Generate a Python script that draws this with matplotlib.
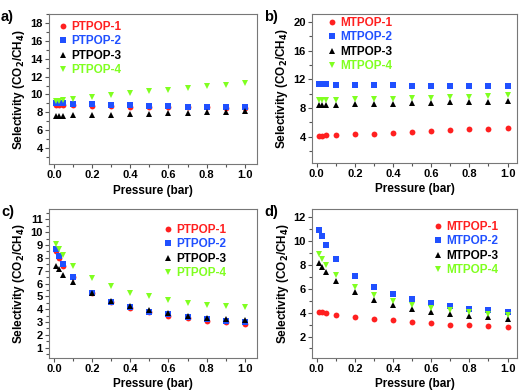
import matplotlib
matplotlib.use("Agg")
import matplotlib.pyplot as plt
from matplotlib.ticker import MultipleLocator

plt.rcParams['font.family'] = ['Liberation Sans', 'DejaVu Sans']
plt.rcParams['font.weight'] = 'bold'
plt.rcParams['axes.labelweight'] = 'bold'
plt.rcParams['mathtext.default'] = 'bf'

pressure = [0.01, 0.025, 0.05, 0.1, 0.2, 0.3, 0.4, 0.5, 0.6, 0.7, 0.8, 0.9, 1.0]

# a) PTPOP
a1 = [8.8, 8.8, 8.8, 8.8, 8.75, 8.7, 8.65, 8.6, 8.6, 8.55, 8.55, 8.5, 8.5]
a2 = [9.0, 9.0, 9.0, 8.95, 8.9, 8.85, 8.8, 8.75, 8.7, 8.65, 8.6, 8.6, 8.55]
a3 = [7.6, 7.6, 7.6, 7.65, 7.7, 7.75, 7.8, 7.85, 7.9, 7.95, 8.0, 8.05, 8.1]
a4 = [9.3, 9.3, 9.35, 9.5, 9.75, 9.95, 10.15, 10.35, 10.55, 10.75, 10.95, 11.1, 11.3]

# b) MTPOP
b1 = [4.1, 4.1, 4.15, 4.2, 4.3, 4.4, 4.55, 4.65, 4.8, 4.9, 5.0, 5.1, 5.2]
b2 = [11.3, 11.3, 11.3, 11.25, 11.2, 11.15, 11.15, 11.1, 11.1, 11.1, 11.1, 11.1, 11.1]
b3 = [8.4, 8.4, 8.4, 8.45, 8.5, 8.55, 8.6, 8.65, 8.7, 8.75, 8.8, 8.85, 8.9]
b4 = [9.1, 9.1, 9.1, 9.15, 9.2, 9.25, 9.3, 9.35, 9.4, 9.5, 9.55, 9.65, 9.75]

# c) PTPOP
c1 = [8.5, 8.0, 7.4, 6.5, 5.25, 4.55, 4.1, 3.75, 3.5, 3.3, 3.1, 3.0, 2.85]
c2 = [8.65, 8.15, 7.5, 6.5, 5.3, 4.6, 4.15, 3.8, 3.6, 3.4, 3.2, 3.1, 3.0]
c3 = [7.4, 7.1, 6.7, 6.1, 5.25, 4.65, 4.25, 3.95, 3.7, 3.5, 3.35, 3.25, 3.15]
c4 = [9.1, 8.7, 8.2, 7.4, 6.45, 5.8, 5.3, 5.0, 4.7, 4.5, 4.35, 4.25, 4.15]

# d) MTPOP
d1 = [4.1, 4.05, 4.0, 3.85, 3.65, 3.5, 3.35, 3.2, 3.1, 3.0, 2.95, 2.85, 2.8]
d2 = [10.95, 10.4, 9.65, 8.5, 7.05, 6.15, 5.55, 5.15, 4.8, 4.55, 4.35, 4.2, 4.05]
d3 = [8.15, 7.85, 7.4, 6.7, 5.7, 5.1, 4.65, 4.35, 4.1, 3.9, 3.75, 3.6, 3.5]
d4 = [8.9, 8.55, 8.0, 7.2, 6.15, 5.5, 5.0, 4.65, 4.4, 4.2, 4.05, 3.9, 3.8]

pt_names = ['PTPOP-1', 'PTPOP-2', 'PTPOP-3', 'PTPOP-4']
mt_names = ['MTPOP-1', 'MTPOP-2', 'MTPOP-3', 'MTPOP-4']

colors = ['#ff2020', '#2050ff', '#000000', '#80ff20']
markers = ['o', 's', '^', 'v']

fig = plt.figure(figsize=(5.2, 3.9), dpi=100)

def panel(rect, series, names, ylim, ymaj, ymin, xlim, tag, leg_anchor):
    ax = fig.add_axes(rect)
    for ys, nm, col, mk in zip(series, names, colors, markers):
        ax.plot(pressure, ys, linestyle='none', marker=mk, color=col,
                ms=4.2, mew=0, label=nm)
    ax.set_xlim(*xlim)
    ax.set_ylim(*ylim)
    ax.xaxis.set_major_locator(MultipleLocator(0.2))
    ax.xaxis.set_minor_locator(MultipleLocator(0.1))
    ax.yaxis.set_major_locator(MultipleLocator(ymaj))
    ax.yaxis.set_minor_locator(MultipleLocator(ymin))
    ax.tick_params(which='both', direction='out', labelsize=8, width=0.8,
                   color='#555555', pad=1.5)
    ax.tick_params(which='major', length=3)
    ax.tick_params(which='minor', length=2)
    for lab in ax.get_xticklabels() + ax.get_yticklabels():
        lab.set_fontweight('bold')
    for s in ax.spines.values():
        s.set_color('#777777')
        s.set_linewidth(0.8)
    ax.set_xlabel('Pressure (bar)', fontsize=8.5, labelpad=3)
    ax.set_ylabel('Selectivity (CO$_2$/CH$_4$)', fontsize=8.5, labelpad=2)
    ax.legend(loc='upper left', bbox_to_anchor=leg_anchor, frameon=False,
              prop={'size': 8.5, 'weight': 'bold'}, handletextpad=0.2,
              labelspacing=0.2, handlelength=1.0, borderpad=0,
              borderaxespad=0, labelcolor='markerfacecolor')
    fig.text(rect[0] - 0.092, rect[1] + rect[3] + 0.01, tag, fontsize=10.5,
             fontweight='bold', va='top')
    return ax

panel([0.094, 0.579, 0.400, 0.385], [a1, a2, a3, a4], pt_names,
      (2.2, 19.0), 2, 1, (-0.026, 1.063), 'a)', (0.038, 0.953))
panel([0.600, 0.582, 0.394, 0.382], [b1, b2, b3, b4], mt_names,
      (0.3, 21.1), 4, 2, (-0.025, 1.049), 'b)', (0.068, 0.98))
panel([0.094, 0.082, 0.400, 0.382], [c1, c2, c3, c4], pt_names,
      (0.2, 11.8), 1, 0.5, (-0.026, 1.063), 'c)', (0.543, 0.90))
panel([0.600, 0.082, 0.394, 0.382], [d1, d2, d3, d4], mt_names,
      (0.2, 12.7), 2, 1, (-0.025, 1.049), 'd)', (0.585, 0.92))

fig.savefig('out.png', dpi=100)
